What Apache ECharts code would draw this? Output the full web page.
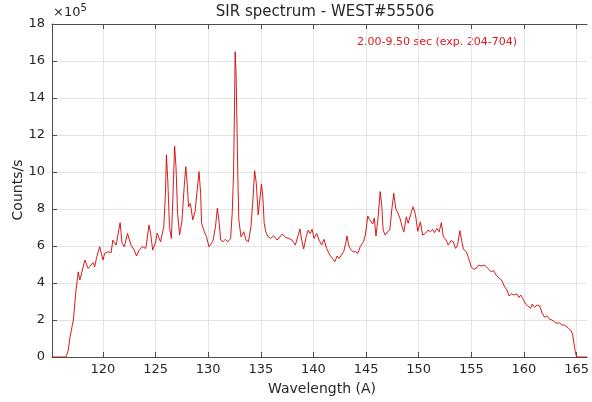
<!DOCTYPE html>
<html>
<head>
<meta charset="utf-8">
<script src="https://cdn.jsdelivr.net/npm/echarts@6/dist/echarts.min.js"></script>
<style>html,body{margin:0;padding:0;background:#fff}#c{width:592px;height:402px}</style>
</head>
<body>
<div id="c"></div>
<script>
// Wavelength (A)
const wavelength = [115.16,116.50,116.70,116.88,117.05,117.19,117.44,117.56,117.65,117.81,118.28,118.59,118.75,119.06,119.22,119.38,119.69,120.00,120.16,120.47,120.78,120.94,121.25,121.40,121.63,121.82,122.03,122.34,122.66,122.97,123.19,123.44,123.75,124.07,124.38,124.53,124.73,125.00,125.15,125.47,125.78,125.94,126.03,126.16,126.32,126.50,126.65,126.81,126.94,127.09,127.28,127.50,127.72,127.87,128.03,128.13,128.28,128.38,128.53,128.75,128.90,129.13,129.28,129.37,129.63,129.84,130.07,130.31,130.47,130.69,130.87,131.03,131.19,131.41,131.62,131.88,132.13,132.28,132.41,132.50,132.56,132.65,132.72,132.81,132.91,133.12,133.38,133.59,133.82,134.06,134.25,134.41,134.57,134.75,134.90,135.06,135.19,135.32,135.47,135.69,135.93,136.22,136.56,137.03,137.34,137.66,137.97,138.28,138.50,138.72,138.88,139.07,139.31,139.50,139.68,139.87,140.06,140.31,140.53,140.78,141.00,141.25,141.56,141.81,142.03,142.25,142.44,142.66,142.87,143.06,143.19,143.34,143.53,143.75,144.00,144.22,144.44,144.75,144.93,145.16,145.31,145.47,145.63,145.78,145.94,146.15,146.34,146.50,146.62,146.81,147.03,147.25,147.44,147.63,147.81,148.03,148.22,148.44,148.59,148.82,149.00,149.22,149.47,149.69,149.91,150.16,150.37,150.63,150.88,151.09,151.31,151.50,151.72,151.94,152.15,152.34,152.57,152.81,153.06,153.28,153.50,153.69,153.91,154.07,154.25,154.53,154.75,155.00,155.25,155.47,155.69,155.94,156.25,156.56,156.88,157.12,157.35,157.66,157.87,158.12,158.38,158.59,158.81,159.06,159.32,159.53,159.69,159.93,160.16,160.37,160.63,160.78,161.00,161.25,161.50,161.72,161.97,162.18,162.44,162.65,162.88,163.12,163.37,163.59,163.82,164.00,164.22,164.43,164.62,164.75,164.88,165.00,166.00];
// Counts/s in units of 10^5
const counts = [0,0,0.35,1.1,1.6,2.0,3.6,4.16,4.6,4.16,5.24,4.79,4.70,5.10,4.88,5.33,5.96,5.24,5.6,5.69,5.64,6.32,6.05,5.96,7.26,6.14,5.96,6.68,6.05,5.78,5.46,5.78,5.96,5.87,7.14,6.68,5.78,6.2,6.7,6.23,7.04,8.85,10.92,9.57,7.04,6.41,8.67,11.4,10.29,7.77,6.59,7.32,9.2,10.29,9.2,8.12,8.3,8.04,7.41,7.86,7.77,10.02,8.85,7.23,6.77,6.5,5.96,6.14,6.32,7.04,8.04,7.32,6.32,6.23,6.36,6.23,6.41,7.77,9.93,13.5,16.5,15.3,13.0,9.93,7.41,6.5,6.77,6.32,6.23,7.04,8.49,10.07,9.39,7.68,8.49,9.35,8.67,7.23,6.77,6.5,6.41,6.55,6.32,6.65,6.47,6.41,6.32,6.05,6.5,6.92,6.32,5.84,6.5,6.86,6.68,6.9,6.41,6.68,6.32,6.05,6.36,5.87,5.51,5.33,5.15,5.46,5.33,5.51,5.69,6.14,6.54,6.05,5.82,5.69,5.69,5.6,5.96,6.23,6.59,7.62,7.44,7.5,7.19,7.5,6.54,7.58,8.94,8.12,6.86,6.59,6.77,6.86,7.95,8.85,8.04,7.77,7.5,7.01,6.77,7.58,7.23,7.68,8.12,7.7,6.8,7.3,6.59,6.68,6.86,6.77,6.9,6.72,6.95,6.77,7.26,6.5,6.36,6.05,6.29,6.23,5.87,6.05,6.83,6.32,5.82,5.69,5.33,4.85,4.74,4.79,4.97,4.92,4.97,4.79,4.61,4.67,4.43,4.25,4.16,3.84,3.62,3.3,3.41,3.35,3.41,3.22,3.35,3.12,2.86,2.76,2.63,2.86,2.69,2.81,2.76,2.36,2.15,2.22,2.04,2.0,1.91,1.82,1.85,1.73,1.73,1.64,1.55,1.46,1.24,0.74,0.29,0,0];
const xTicks = [120,125,130,135,140,145,150,155,160,165];
const yTicks = [0,2,4,6,8,10,12,14,16,18];
const titleText = 'SIR spectrum - WEST#55506';
const noteText = '2.00-9.50 sec (exp. 204-704)';
const xName = 'Wavelength (A)';
const yName = 'Counts/s';

const FONT = 'DejaVu Sans';
const AX = '#4d4d4d';
const TXT = '#262626';
const chart = echarts.init(document.getElementById('c'), null, {renderer: 'canvas'});
const xBase = {
  type: 'value', min: 115.16, max: 166,
  axisLine: {show: true, onZero: false, lineStyle: {color: AX, width: 1}},
  axisTick: {show: true, inside: true, length: 5, customValues: xTicks, lineStyle: {color: AX}},
  axisLabel: {show: true, customValues: xTicks, color: TXT, fontFamily: FONT, fontSize: 13, margin: 6},
  splitLine: {show: true, lineStyle: {color: '#e3e3e3', width: 1}}
};
chart.setOption({
  animation: false,
  backgroundColor: '#fff',
  grid: {left: 52, top: 24, width: 542, bottom: 45, containLabel: false},
  xAxis: [
    xBase,
    Object.assign({}, xBase, {position: 'top', axisLabel: {show: false, customValues: xTicks}, splitLine: {show: false}})
  ],
  yAxis: {
    type: 'value', min: 0, max: 18, interval: 2,
    axisLine: {show: true, lineStyle: {color: AX, width: 1}},
    axisTick: {show: true, inside: true, length: 5, lineStyle: {color: AX}},
    axisLabel: {color: TXT, fontFamily: FONT, fontSize: 13, margin: 7},
    splitLine: {show: true, lineStyle: {color: '#e3e3e3', width: 1}}
  },
  series: [{
    type: 'line',
    data: wavelength.map((w, i) => [w, counts[i]]),
    showSymbol: false,
    symbol: 'none',
    lineStyle: {color: '#d40000', width: 0.9},
    clip: true
  }],
  graphic: [
    {type: 'text', x: 325, y: 12, style: {text: titleText, font: '15px "DejaVu Sans"', fill: TXT, align: 'center', verticalAlign: 'middle'}},
    {type: 'text', x: 437, y: 42, style: {text: noteText, font: '11px "DejaVu Sans"', fill: '#e0191e', align: 'center', verticalAlign: 'middle'}},
    {type: 'text', x: 322, y: 389, style: {text: xName, font: '14px "DejaVu Sans"', fill: TXT, align: 'center', verticalAlign: 'middle'}},
    {type: 'text', x: 18, y: 190, rotation: Math.PI / 2, style: {text: yName, font: '14px "DejaVu Sans"', fill: TXT, align: 'center', verticalAlign: 'middle'}},
    {type: 'text', x: 53, y: 13, style: {text: '×10{s|5}', font: '13px "DejaVu Sans"', fill: TXT, verticalAlign: 'middle', rich: {s: {fontSize: 10, verticalAlign: 'top', padding: [0,0,9,0], fill: TXT, fontFamily: FONT}}}}
  ]
});
</script>
</body>
</html>
